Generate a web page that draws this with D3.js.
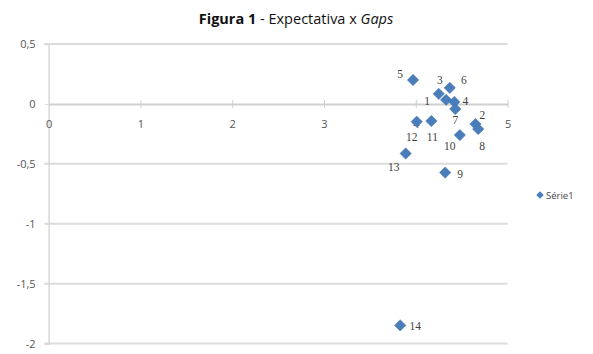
<!DOCTYPE html>
<html><head><meta charset="utf-8">
<script src="https://cdn.jsdelivr.net/npm/d3@7"></script>
<style>
body{margin:0;background:#fff;}
svg{display:block;}
</style></head>
<body>
<svg id="c" width="593" height="354"></svg>
<script>
// Data
const pointLabels = ["1","2","3","4","5","6","7","8","9","10","11","12","13","14"];
const xValues = [4.33, 4.65, 4.25, 4.42, 3.97, 4.37, 4.43, 4.68, 4.32, 4.48, 4.17, 4.01, 3.89, 3.83];
const yValues = [0.034, -0.168, 0.084, 0.017, 0.20, 0.134, -0.042, -0.21, -0.573, -0.26, -0.143, -0.148, -0.414, -1.848];
const xTicks = [0, 1, 2, 3, 4, 5];
const yTicks = [0.5, 0, -0.5, -1, -1.5, -2];
const seriesName = "Série1";
// label placement (pixels relative to point)
const labelDx = [-19, 7, 1, 11, -13, 14, 0, 4, 15, -10, 1, -5, -12, 15];
const labelDy = [1, -9, -14, -1, -6, -8, 11, 17, 1, 11, 16, 15, 13, 1];

const svg = d3.select("#c");
const blue = "#4a7ebb";
const locale = d3.formatLocale({decimal: ",", thousands: ".", grouping: [3], currency: ["", ""], minus: "-"});
const fmt = v => locale.format("")(v);

const x = d3.scaleLinear().domain([0, 5]).range([48.6, 507.6]);
const y = d3.scaleLinear().domain([-2, 0.5]).range([343.6, 44]);

// title
const t = svg.append("text").attr("x", 296).attr("y", 24).attr("text-anchor", "middle")
  .attr("font-family", "Open Sans, Lato, sans-serif").attr("font-size", 14.5).attr("fill", "#111");
t.append("tspan").attr("font-weight", "bold").text("Figura 1");
t.append("tspan").text(" - Expectativa x ");
t.append("tspan").attr("font-style", "italic").text("Gaps");

// horizontal gridlines
svg.append("g").selectAll("line").data(yTicks.filter(d => d !== 0)).join("line")
  .attr("x1", x(0) - 4).attr("x2", x(5)).attr("y1", d => y(d)).attr("y2", d => y(d))
  .attr("stroke", "#dcdcdc").attr("stroke-width", 2);

// y axis
const yAxis = d3.axisLeft(y).tickValues(yTicks).tickFormat(fmt).tickSize(4).tickPadding(9);
const gy = svg.append("g").attr("transform", `translate(${x(0)},0)`).call(yAxis);
gy.select(".domain").attr("stroke", "#d8d8d8").attr("stroke-width", 1.5);
gy.selectAll(".tick line").attr("stroke", "#d8d8d8");
gy.selectAll(".tick text").attr("fill", "#555").attr("font-size", 11)
  .attr("font-family", "Open Sans, Lato, sans-serif");

// x axis at y=0
const xAxis = d3.axisBottom(x).tickValues(xTicks).tickFormat(fmt).tickSizeInner(4).tickSizeOuter(0).tickPadding(12);
const gx = svg.append("g").attr("transform", `translate(0,${y(0)})`).call(xAxis);
gx.select(".domain").attr("stroke", "#cfcfcf").attr("stroke-width", 2);
gx.selectAll(".tick line").attr("stroke", "#cfcfcf").attr("y1", -4).attr("y2", 4);
gx.selectAll(".tick text").attr("fill", "#555").attr("font-size", 11)
  .attr("font-family", "Open Sans, Lato, sans-serif");
gx.selectAll(".tick").filter(d => d === 0).select("line").remove();

// points
const data = pointLabels.map((l, i) => ({l, x: xValues[i], y: yValues[i], dx: labelDx[i], dy: labelDy[i]}));
const diamond = d3.symbol().type(d3.symbolDiamond2 || d3.symbolDiamond).size(60);
const sq = 5.6;
svg.append("g").selectAll("rect").data(data).join("rect")
  .attr("x", -sq).attr("y", -sq).attr("width", sq * 2).attr("height", sq * 2)
  .attr("transform", d => `translate(${x(d.x)},${y(d.y)}) rotate(45) scale(0.72)`)
  .attr("fill", blue).attr("stroke", "#3d6ea8").attr("stroke-width", 0.6);

// data labels
svg.append("g").selectAll("text").data(data).join("text")
  .attr("x", d => x(d.x) + d.dx).attr("y", d => y(d.y) + d.dy + 4)
  .attr("text-anchor", "middle").attr("font-size", 11.5).attr("fill", "#404040")
  .attr("font-family", "Liberation Serif, DejaVu Serif, serif")
  .text(d => d.l);

// legend
const lg = svg.append("g").attr("transform", "translate(540,195)");
lg.append("rect").attr("x", -3.5).attr("y", -3.5).attr("width", 7).attr("height", 7)
  .attr("transform", "rotate(45) scale(0.75)").attr("fill", blue);
lg.append("text").attr("x", 6).attr("y", 3.5).attr("font-size", 9.5).attr("fill", "#444")
  .attr("font-family", "Open Sans, Lato, sans-serif").text(seriesName);
</script>
</body></html>
